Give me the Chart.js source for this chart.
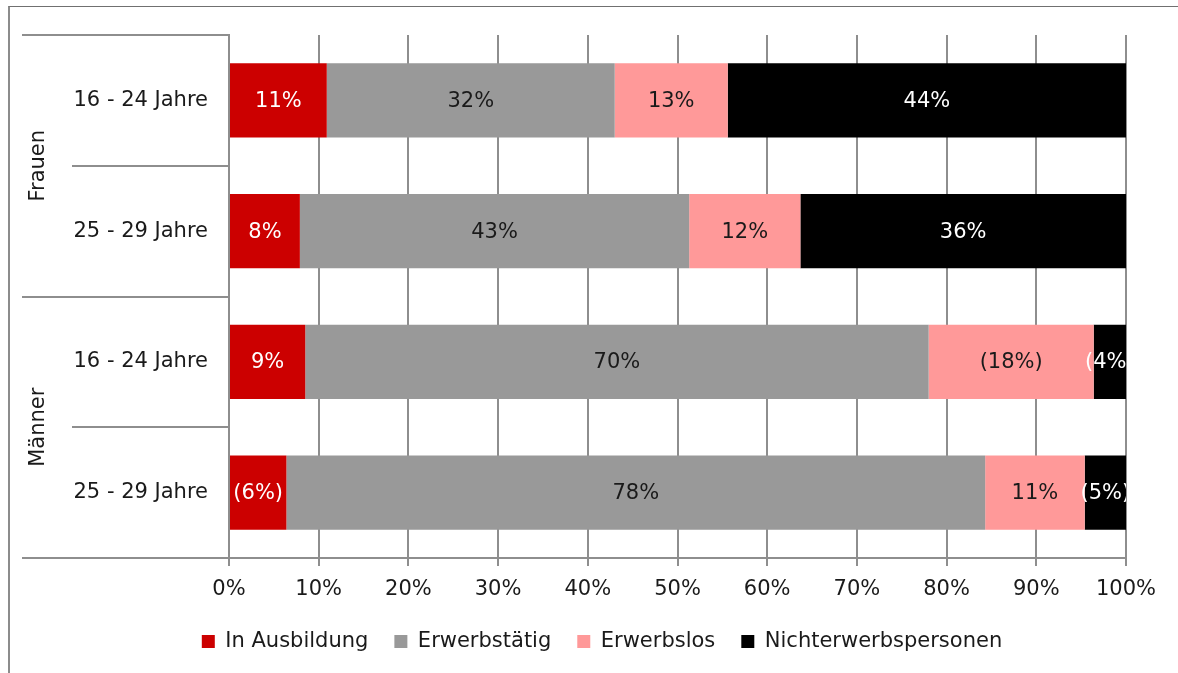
<!DOCTYPE html>
<html>
<head>
<meta charset="utf-8">
<script src="https://cdn.jsdelivr.net/npm/chart.js@4.4.1/dist/chart.umd.min.js"></script>
<style>
  html, body { margin: 0; padding: 0; background: #fff; overflow: hidden; }
  #wrap { position: relative; width: 1178px; height: 673px; }
  #wrap canvas { position: absolute; left: 0; top: 0; }
  #frame {
    position: absolute; left: 8px; top: 6px; width: 1200px; height: 700px;
    border-top: 1px solid #707070; border-left: 2px solid #8c8c8c;
    pointer-events: none;
  }
</style>
</head>
<body>
<div id="wrap">
  <canvas id="chart" width="1178" height="673"></canvas>
  <div id="frame"></div>
</div>
<script>
// Age bands (bars, top to bottom) and the sex group each one belongs to
const ageBands = ['16 - 24 Jahre', '25 - 29 Jahre', '16 - 24 Jahre', '25 - 29 Jahre'];
const groupNames = ['Frauen', 'Männer'];
const groupOfBand = [0, 0, 1, 1];

// Shares in percent per status
const seriesNames = ['In Ausbildung', 'Erwerbstätig', 'Erwerbslos', 'Nichterwerbspersonen'];
const inAusbildung   = [10.9, 7.9, 8.5, 6.4];
const erwerbstaetig  = [32.1, 43.4, 69.5, 77.9];
const erwerbslos     = [12.6, 12.4, 18.4, 11.1];
const nichterwerbs   = [44.4, 36.3, 3.6, 4.6];

// Values from small samples are printed in brackets: [series, band]
const bracketed = [[2, 2], [3, 2], [0, 3], [3, 3]];

// Axis tick values
const xTicks = [0, 10, 20, 30, 40, 50, 60, 70, 80, 90, 100];

const seriesColors = ['#cc0000', '#999999', '#ff9999', '#000000'];
const labelColors  = ['#ffffff', '#1a1a1a', '#1a1a1a', '#ffffff'];
const FONT = "'DejaVu Sans', sans-serif";
const SIZE = 21;
const TEXT = '#1a1a1a';
const LINE = '#8e8e8e';

const seriesValues = [inAusbildung, erwerbstaetig, erwerbslos, nichterwerbs];

// Group captions and separator rules left of the bars
const groupAxisPlugin = {
  id: 'groupAxis',
  afterDraw(chart) {
    const { ctx, chartArea } = chart;
    const y = chart.scales.y;
    const n = ageBands.length;
    const half = (y.getPixelForValue(1) - y.getPixelForValue(0)) / 2;
    ctx.save();
    ctx.strokeStyle = LINE;
    ctx.lineWidth = 2;
    for (let i = 0; i <= n; i++) {
      const py = i < n ? y.getPixelForValue(i) - half : y.getPixelForValue(n - 1) + half;
      const isGroupEdge = i === 0 || i === n || groupOfBand[i] !== groupOfBand[i - 1];
      const x0 = isGroupEdge ? 22 : 72;
      ctx.beginPath();
      ctx.moveTo(x0, Math.round(py));
      ctx.lineTo(chartArea.left, Math.round(py));
      ctx.stroke();
    }
    ctx.fillStyle = TEXT;
    ctx.font = SIZE + 'px ' + FONT;
    ctx.textAlign = 'center';
    ctx.textBaseline = 'middle';
    groupNames.forEach((name, g) => {
      const idx = groupOfBand.map((v, i) => v === g ? i : -1).filter(i => i >= 0);
      const top = y.getPixelForValue(idx[0]) - half;
      const bottom = y.getPixelForValue(idx[idx.length - 1]) + half;
      ctx.save();
      ctx.translate(39, (top + bottom) / 2);
      ctx.rotate(-Math.PI / 2);
      ctx.fillText(name, 0, 0);
      ctx.restore();
    });
    ctx.restore();
  }
};

// Percent labels centred in each segment, clipped to the plot area
const segmentLabelPlugin = {
  id: 'segmentLabels',
  afterDatasetsDraw(chart) {
    const { ctx, chartArea } = chart;
    ctx.save();
    ctx.beginPath();
    ctx.rect(chartArea.left, chartArea.top, chartArea.right - chartArea.left, chartArea.bottom - chartArea.top);
    ctx.clip();
    ctx.font = SIZE + 'px ' + FONT;
    ctx.textAlign = 'center';
    ctx.textBaseline = 'middle';
    chart.data.datasets.forEach((ds, s) => {
      const meta = chart.getDatasetMeta(s);
      meta.data.forEach((bar, b) => {
        const v = ds.data[b];
        const r = Math.round(v) + '%';
        const inBrackets = bracketed.some(([ss, bb]) => ss === s && bb === b);
        ctx.fillStyle = labelColors[s];
        ctx.fillText(inBrackets ? '(' + r + ')' : r, (bar.x + bar.base) / 2, bar.y + 1);
      });
    });
    ctx.restore();
  }
};

// Centre the legend under the plot area rather than the whole canvas
const legendUnderPlotPlugin = {
  id: 'legendUnderPlot',
  afterLayout(chart) {
    const lg = chart.legend;
    if (!lg) return;
    const shift = 56;
    lg.left += shift;
    lg.width = lg.right - lg.left;
  }
};

new Chart(document.getElementById('chart'), {
  type: 'bar',
  data: {
    labels: ageBands,
    datasets: seriesNames.map((name, s) => ({
      label: name,
      data: seriesValues[s],
      backgroundColor: seriesColors[s],
      borderWidth: 0,
      categoryPercentage: 1,
      barPercentage: 0.566
    }))
  },
  options: {
    indexAxis: 'y',
    responsive: false,
    animation: false,
    events: [],
    layout: { padding: { left: 22, right: 52, top: 35, bottom: 11 } },
    scales: {
      x: {
        stacked: true,
        min: 0,
        max: 100,
        afterBuildTicks(scale) { scale.ticks = xTicks.map(v => ({ value: v })); },
        afterFit(scale) { scale.height = 47; },
        ticks: {
          callback: v => v + '%',
          font: { family: FONT, size: SIZE },
          color: TEXT,
          padding: 11,
          maxRotation: 0
        },
        grid: { color: LINE, lineWidth: 2, tickLength: 8, drawTicks: true },
        border: { display: true, color: LINE, width: 2 }
      },
      y: {
        stacked: true,
        afterFit(scale) { scale.width = 207; },
        ticks: {
          font: { family: FONT, size: SIZE },
          color: TEXT,
          padding: 21
        },
        grid: { display: false, drawTicks: false },
        border: { display: true, color: LINE, width: 2 }
      }
    },
    plugins: {
      legend: {
        position: 'bottom',
        labels: {
          font: { family: FONT, size: SIZE },
          color: TEXT,
          boxWidth: 13,
          boxHeight: 13,
          padding: 26
        }
      },
      tooltip: { enabled: false }
    }
  },
  plugins: [groupAxisPlugin, segmentLabelPlugin, legendUnderPlotPlugin]
});
</script>
</body>
</html>
